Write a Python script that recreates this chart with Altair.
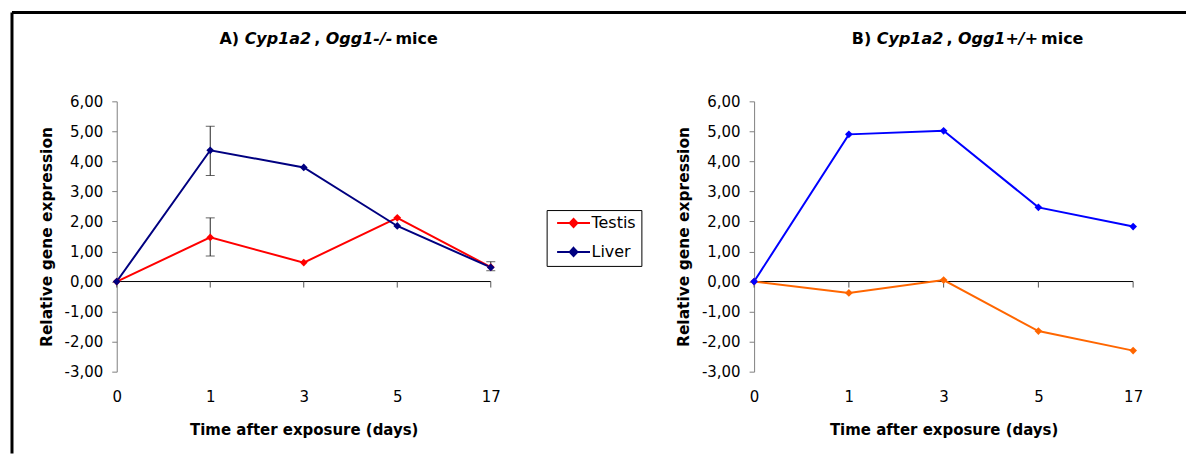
import altair as alt
import pandas as pd

days = ["0", "1", "3", "5", "17"]
tissues = ["Testis", "Liver"]
y_ticks = [-3, -2, -1, 0, 1, 2, 3, 4, 5, 6]

a_testis = [0.00, 1.47, 0.63, 2.12, 0.48]
a_liver = [0.00, 4.37, 3.80, 1.85, 0.47]
a_err_day = ["1", "1", "17"]
a_err_lo = [3.53, 0.85, 0.36]
a_err_hi = [5.17, 2.12, 0.66]

b_testis = [0.00, -0.38, 0.05, -1.65, -2.30]
b_liver = [0.00, 4.90, 5.02, 2.47, 1.83]

a_colors = ["#FF0000", "#000080"]
b_colors = ["#FF6600", "#0000FF"]

title_a = [("A) ", "normal"), ("Cyp1a2", "italic"), (", ", "normal"), ("Ogg1-/-", "italic"), (" mice", "normal")]
title_b = [("B) ", "normal"), ("Cyp1a2", "italic"), (", ", "normal"), ("Ogg1+/+", "italic"), (" mice", "normal")]

FONT = "DejaVu Sans"
H = 271

# DejaVu Sans Bold advance widths (per 1000 em)
W = {"A": 774, "B": 762, ")": 457, " ": 348, "C": 734, "y": 652, "p": 716, "1": 696,
     "a": 675, "2": 696, ",": 380, "O": 850, "g": 716, "-": 415, "/": 365, "+": 838,
     "m": 1042, "i": 343, "c": 593, "e": 678}


def title_layer(segments, x0, y0, size):
    x = x0
    layers = []
    for text, style in segments:
        layers.append(
            alt.Chart(alt.Data(values=[{"t": text}]))
            .mark_text(align="left", baseline="alphabetic", font=FONT, fontSize=size,
                       fontWeight="bold", fontStyle=style, color="black")
            .encode(text="t:N", x=alt.value(x), y=alt.value(y0))
        )
        x += sum(W.get(ch, 600) for ch in text) / 1000 * size
        if style == "italic":
            x += 3
    return layers


XAXIS = alt.Axis(title="Time after exposure (days)", labelAngle=0, domain=False,
                 ticks=False, labelPadding=18, titlePadding=18,
                 labelFont=FONT, labelFontSize=15, labelColor="black",
                 titleFont=FONT, titleFontSize=15, titleFontWeight="bold",
                 titleColor="black")
YAXIS = alt.Axis(values=y_ticks, grid=False, title="Relative gene expression",
                 labelExpr="replace(replace(format(datum.value, '.2f'), '.', ','), '\u2212', '-')",
                 labelOverlap=False,
                 domainColor="#808080", tickColor="#808080", tickSize=5,
                 labelPadding=9, titlePadding=10,
                 labelFont=FONT, labelFontSize=15, labelColor="black",
                 titleFont=FONT, titleFontSize=15.5, titleFontWeight="bold",
                 titleColor="black")
XSCALE = alt.Scale(type="point", padding=0)
YSCALE = alt.Scale(domain=[-3, 6], nice=False, zero=False)


def xe(field):
    return alt.X(field, type="ordinal", sort=days, scale=XSCALE, axis=XAXIS)


def ye(field):
    return alt.Y(field, type="quantitative", scale=YSCALE, axis=YAXIS)


def panel(testis, liver, colors, width, title, title_x, legend, errs=None, border=False):
    df = pd.DataFrame({
        "day": days * 2,
        "value": testis + liver,
        "tissue": ["Testis"] * len(days) + ["Liver"] * len(days),
    })
    if legend:
        sym = "M-3,0H3M0,-0.75L0.7,0L0,0.75L-0.7,0Z"
        leg = alt.Legend(title=None, orient="none", legendX=431, legendY=109,
                         symbolType=sym, symbolSize=121, symbolStrokeWidth=2,
                         labelOffset=10, symbolOffset=14,
                         labelFont=FONT, labelFontSize=16, labelColor="black",
                         strokeColor="black", fillColor="white", padding=5,
                         rowPadding=11)
    else:
        leg = None
    cenc = alt.Color("tissue:N", scale=alt.Scale(domain=tissues, range=colors), legend=leg)
    base = alt.Chart(df).encode(x=xe("day"), y=ye("value"), color=cenc)
    zero = alt.Chart(pd.DataFrame({"value": [0.0]})).mark_rule(
        color="black", strokeWidth=1).encode(y=ye("value"))
    tdf = pd.DataFrame({"day": days, "value": [0.0] * len(days), "value2": [-0.2] * len(days)})
    tks = alt.Chart(tdf).mark_rule(color="#555555", strokeWidth=1).encode(
        x=xe("day"), y=ye("value"), y2="value2:Q")
    line = base.mark_line(strokeWidth=2)
    pts = base.mark_point(shape="diamond", filled=True, size=60, opacity=1)
    layers = [zero, tks]
    if errs is not None:
        edf = pd.DataFrame({"day": errs[0], "value": errs[1], "hi": errs[2]})
        eb = alt.Chart(edf).encode(x=xe("day"))
        layers.append(eb.mark_rule(color="#222222", strokeWidth=1).encode(y=ye("value"), y2="hi:Q"))
        layers.append(eb.mark_tick(color="#222222", thickness=1, size=9, orient="horizontal").encode(y=ye("value")))
        layers.append(eb.mark_tick(color="#222222", thickness=1, size=9, orient="horizontal").encode(y=ye("hi")))
    layers += [line, pts]
    layers += title_layer(title, title_x, -57, 16)
    if border:
        bd = alt.Data(values=[{"b": 1}])
        layers.append(alt.Chart(bd).mark_rule(color="black", strokeWidth=3).encode(
            x=alt.value(-105), y=alt.value(-89), y2=alt.value(353)))
        layers.append(alt.Chart(bd).mark_rule(color="black", strokeWidth=3).encode(
            x=alt.value(-105), x2=alt.value(1072), y=alt.value(-89)))
    return alt.layer(*layers).properties(width=width, height=H)


left = panel(a_testis, a_liver, a_colors, 375, title_a, 103, True,
             errs=(a_err_day, a_err_lo, a_err_hi), border=True)
right = panel(b_testis, b_liver, b_colors, 380, title_b, 98, False)

chart = (
    alt.hconcat(left, right, spacing=264, bounds="flush")
    .resolve_scale(color="independent")
    .properties(padding={"left": 2, "top": 2, "right": 0, "bottom": 0}, background="white")
    .configure_view(stroke=None)
)

chart.save("out.html", embed_options={"renderer": "svg", "actions": False})
